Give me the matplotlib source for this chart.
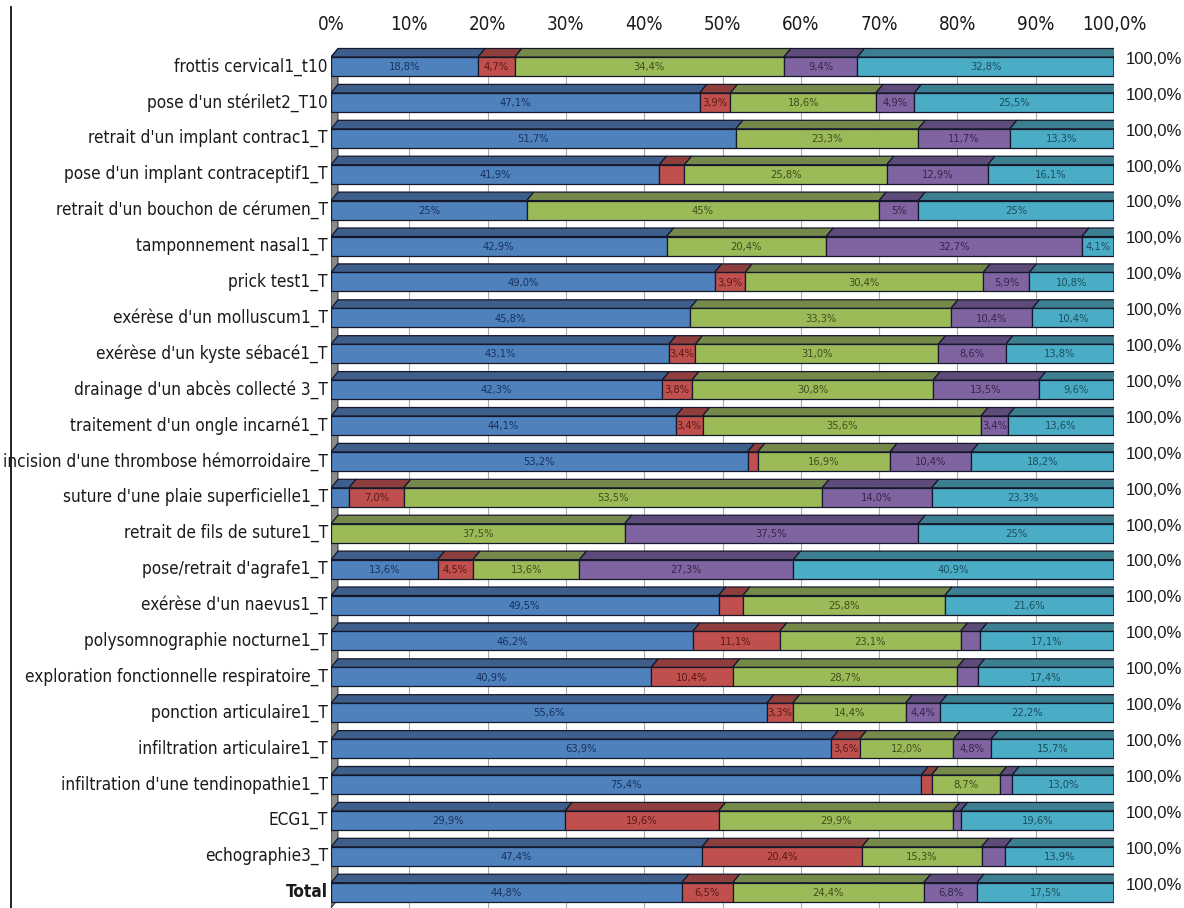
import numpy as np
import matplotlib
matplotlib.use("Agg")
import matplotlib.pyplot as plt
from matplotlib import font_manager
from matplotlib.patches import Polygon
from matplotlib.lines import Line2D

cats = ["frottis cervical1_t10", "pose d'un stérilet2_T10", "retrait d'un implant contrac1_T",
        "pose d'un implant contraceptif1_T", "retrait d'un bouchon de cérumen_T", "tamponnement nasal1_T",
        "prick test1_T", "exérèse d'un molluscum1_T", "exérèse d'un kyste sébacé1_T",
        "drainage d'un abcès collecté 3_T", "traitement d'un ongle incarné1_T",
        "incision d'une thrombose hémorroidaire_T", "suture d'une plaie superficielle1_T",
        "retrait de fils de suture1_T", "pose/retrait d'agrafe1_T", "exérèse d'un naevus1_T",
        "polysomnographie nocturne1_T", "exploration fonctionnelle respiratoire_T",
        "ponction articulaire1_T", "infiltration articulaire1_T", "infiltration d'une tendinopathie1_T",
        "ECG1_T", "echographie3_T", "Total"]

blue = [18.8, 47.1, 51.7, 41.9, 25, 42.9, 49.0, 45.8, 43.1, 42.3, 44.1, 53.2, 2.3, 0, 13.6, 49.5,
        46.2, 40.9, 55.6, 63.9, 75.4, 29.9, 47.4, 44.8]
red = [4.7, 3.9, 0, 3.2, 0, 0, 3.9, 0, 3.4, 3.8, 3.4, 1.3, 7.0, 0, 4.5, 3.1,
       11.1, 10.4, 3.3, 3.6, 1.3, 19.6, 20.4, 6.5]
green = [34.4, 18.6, 23.3, 25.8, 45, 20.4, 30.4, 33.3, 31.0, 30.8, 35.6, 16.9, 53.5, 37.5, 13.6, 25.8,
         23.1, 28.7, 14.4, 12.0, 8.7, 29.9, 15.3, 24.4]
purple = [9.4, 4.9, 11.7, 12.9, 5, 32.7, 5.9, 10.4, 8.6, 13.5, 3.4, 10.4, 14.0, 37.5, 27.3, 0,
          2.5, 2.6, 4.4, 4.8, 1.6, 1.0, 3.0, 6.8]
cyan = [32.8, 25.5, 13.3, 16.1, 25, 4.1, 10.8, 10.4, 13.8, 9.6, 13.6, 18.2, 23.3, 25, 40.9, 21.6,
        17.1, 17.4, 22.2, 15.7, 13.0, 19.6, 13.9, 17.5]

# rows whose labels use the "general" number format (no forced decimal)
general_rows = {"retrait d'un bouchon de cérumen_T", "retrait de fils de suture1_T"}

xticks = [0, 10, 20, 30, 40, 50, 60, 70, 80, 90, 100]
xticklabels = ["0%", "10%", "20%", "30%", "40%", "50%", "60%", "70%", "80%", "90%", "100,0%"]

front_cols = ['#4F81BD', '#C0504D', '#9BBB59', '#8064A2', '#4BACC6']
top_cols = ['#3E5E8B', '#8E3E3C', '#74894A', '#5E4B79', '#3C7F90']
text_cols = ['#17325E', '#5A1A18', '#3E4F1C', '#33264A', '#1B4F5E']
side_col = '#357888'
edge = '#15182A'

# look for a condensed face like the Arial Narrow of the original
cond = None
for f in font_manager.fontManager.ttflist:
    if 'Narrow' in f.name or 'Condensed' in f.name or f.stretch in ('condensed', 'semi-condensed'):
        if f.style == 'normal':
            cond = f
            break
if cond is not None:
    lab_font = dict(family=[cond.name, 'DejaVu Sans'], stretch=cond.stretch)
    cat_size, tick_size, val_size = 12.3, 13.5, 8
else:
    lab_font = dict(family=['Liberation Sans', 'DejaVu Sans'])
    cat_size, tick_size, val_size = 11.3, 12, 7

W, H = 1184, 908
fig = plt.figure(figsize=(W / 100, H / 100), dpi=100)
fig.patch.set_facecolor('white')

# pixel geometry of the plot
x0_px, x100_px = 331, 1114
row0_px, row_px = 66.5, 35.9
ax = fig.add_axes([x0_px / W, 0, (x100_px - x0_px) / W, 1])
ax.set_xlim(0, 100)
ax.set_ylim((H - row0_px) / row_px, -row0_px / row_px)
ax.axis('off')

px_x = 100 / (x100_px - x0_px)
dx = 7 * px_x            # depth offset in data units
dy = 8.5 / row_px        # depth offset in rows
h = 19 / row_px          # front face height in rows

ybot = (H - row0_px) / row_px
ytop = -h / 2 - dy

# back wall gridlines
ax.vlines(xticks[1:-1], ytop, ybot, color='#A8A8A8', lw=0.8, zorder=0)
ax.vlines([100 + dx], ytop, ybot, color='#A8A8A8', lw=0.8, zorder=0)

# left side wall
wall = Polygon([(0, ybot), (0, ytop + dy), (dx, ytop), (dx, ybot - dy)],
               closed=True, fc='#8A8A8A', ec=edge, lw=0.6, zorder=1)
ax.add_patch(wall)

data = np.array([blue, red, green, purple, cyan], dtype=float)
totals = data.sum(axis=0)

for i, cat in enumerate(cats):
    y = i
    left = 0.0
    for j in range(5):
        v = data[j, i]
        if v <= 0:
            continue
        w = v / totals[i] * 100
        ax.barh(y, w, left=left, height=h, color=front_cols[j], edgecolor=edge, lw=0.9, zorder=3)
        topface = Polygon([(left, y - h / 2), (left + w, y - h / 2),
                           (left + w + dx, y - h / 2 - dy), (left + dx, y - h / 2 - dy)],
                          closed=True, fc=top_cols[j], ec=edge, lw=0.9, zorder=3)
        ax.add_patch(topface)
        if v >= 3.3:
            if cat in general_rows:
                lab = '{:g}%'.format(v).replace('.', ',')
            else:
                lab = '{:.1f}%'.format(v).replace('.', ',')
            ax.text(left + w / 2, y + 0.02, lab, ha='center', va='center', fontsize=val_size,
                    color=text_cols[j], zorder=4, **lab_font)
        left += w
    side = Polygon([(100, y + h / 2), (100, y - h / 2), (100 + dx, y - h / 2 - dy),
                    (100 + dx, y + h / 2 - dy)], closed=True, fc=side_col, ec=edge, lw=0.9, zorder=3)
    ax.add_patch(side)
    ax.text(101.5, y - 0.2, '100,0%', ha='left', va='center', fontsize=12,
            family=['Liberation Sans', 'DejaVu Sans'], color='#1a1a1a')
    ax.text(-0.4, y, cat, ha='right', va='center', fontsize=cat_size, color='#1a1a1a',
            fontweight='bold' if cat == 'Total' else 'normal', **lab_font)

ty = (25 - row0_px) / row_px
for t, lab in zip(xticks, xticklabels):
    ax.text(t, ty, lab, ha='center', va='center', fontsize=tick_size, color='#1a1a1a', **lab_font)

fig.add_artist(Line2D([11 / W, 11 / W], [0, 1 - 7 / H], transform=fig.transFigure,
                      color='#111111', lw=1.3))

fig.savefig('out.png', dpi=100)
